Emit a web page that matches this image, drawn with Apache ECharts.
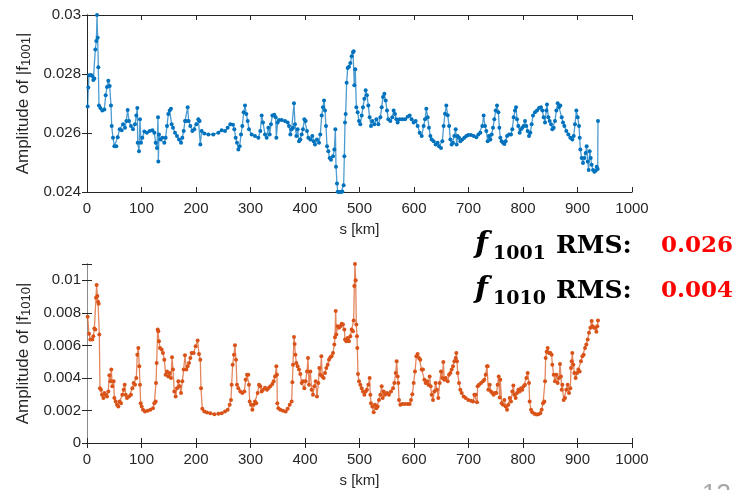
<!DOCTYPE html>
<html>
<head>
<meta charset="utf-8">
<script src="https://cdn.jsdelivr.net/npm/echarts@6/dist/echarts.min.js"></script>
<style>
html, body { margin: 0; padding: 0; background: #fff; }
#chart { width: 749px; height: 490px; }
</style>
</head>
<body>
<div id="chart"></div>
<script>
// |f1001| along the ring (s in km)
var sTop = [1.2,2.4,3.7,7.3,9.8,11.6,13.5,15.3,17.1,18.4,19.6,20.8,22.0,24.5,28.1,31.8,34.3,36.7,39.1,41.6,44.0,45.3,47.7,50.2,53.8,56.3,60.0,63.6,66.1,69.7,72.2,74.6,77.1,80.7,84.4,88.1,90.5,92.3,93.0,95.4,97.2,99.1,101.5,105.2,110.0,115.0,119.9,123.5,126.0,128.4,130.3,130.9,132.1,134.6,138.2,141.9,144.3,146.8,149.2,151.7,154.1,155.3,157.8,161.5,165.1,168.8,172.5,174.9,177.4,179.8,182.3,184.7,186.5,189.6,193.3,196.9,200.6,204.3,206.7,207.9,210.4,215.3,222.6,231.8,241.0,247.1,253.2,258.1,263.0,267.9,270.3,272.8,275.2,277.7,280.1,282.6,285.0,287.5,289.9,292.3,294.8,297.2,302.1,308.2,314.4,318.0,320.5,322.9,326.6,329.7,332.7,335.2,337.6,340.1,343.7,346.2,347.4,349.8,352.3,357.2,363.3,368.2,370.6,373.1,375.5,378.0,379.8,381.6,384.1,386.5,389.0,391.4,393.9,396.3,398.8,401.2,403.7,406.1,409.8,413.4,415.9,418.3,422.0,425.7,428.1,430.6,433.0,434.9,436.7,438.5,440.4,442.8,445.3,447.7,451.4,453.8,455.7,456.9,458.7,460.0,462.4,466.0,468.5,470.9,472.2,473.4,474.6,476.4,478.3,480.7,483.2,485.6,488.1,489.3,490.5,492.3,494.2,496.6,499.1,501.5,504.0,506.4,508.9,511.3,513.7,516.2,518.6,521.1,523.5,527.2,530.9,534.6,538.2,540.7,543.1,545.6,548.0,550.5,552.9,556.6,560.2,562.7,565.1,567.6,570.0,573.7,578.6,583.5,588.4,592.1,595.7,599.4,603.1,606.7,610.4,614.1,617.7,620.2,622.6,625.1,627.5,630.0,632.4,636.1,639.7,643.4,645.9,649.5,652.0,654.4,656.9,659.3,661.8,664.5,666.7,669.1,671.6,674.0,676.5,678.3,680.1,682.6,685.0,688.7,692.4,696.0,699.7,704.6,709.5,714.4,718.1,721.7,725.4,727.8,730.3,732.7,735.2,737.6,740.1,742.5,745.0,747.4,749.9,752.3,754.8,756.6,758.4,760.9,763.3,765.8,768.2,770.7,774.3,778.0,780.4,782.9,785.3,787.2,789.0,791.4,793.9,796.3,798.8,801.2,803.7,806.1,808.6,811.0,813.5,815.9,818.4,822.0,825.7,829.4,833.0,835.5,837.9,840.4,842.8,844.0,846.5,848.9,851.4,853.8,856.3,858.7,861.2,863.6,866.1,868.5,871.0,873.4,875.9,879.5,883.2,886.9,890.5,893.0,895.4,897.9,900.3,902.8,904.0,905.2,907.7,910.1,912.6,915.0,916.8,918.7,920.5,922.3,924.2,926.0,928.5,930.9,933.3,935.2,937.0,937.6];
var ampF1001 = [0.02690,0.02754,0.02796,0.02797,0.02793,0.02780,0.02785,0.02883,0.02912,0.03000,0.02923,0.02823,0.02693,0.02685,0.02676,0.02680,0.02728,0.02756,0.02777,0.02759,0.02693,0.02624,0.02584,0.02555,0.02555,0.02586,0.02613,0.02609,0.02630,0.02618,0.02641,0.02678,0.02641,0.02624,0.02613,0.02630,0.02659,0.02685,0.02567,0.02538,0.02647,0.02567,0.02584,0.02605,0.02601,0.02607,0.02609,0.02601,0.02567,0.02549,0.02653,0.02503,0.02595,0.02578,0.02584,0.02567,0.02584,0.02624,0.02664,0.02676,0.02682,0.02630,0.02618,0.02601,0.02590,0.02578,0.02567,0.02584,0.02607,0.02641,0.02641,0.02687,0.02641,0.02624,0.02607,0.02613,0.02630,0.02647,0.02641,0.02561,0.02607,0.02598,0.02595,0.02595,0.02601,0.02609,0.02607,0.02618,0.02630,0.02628,0.02613,0.02584,0.02567,0.02544,0.02555,0.02595,0.02624,0.02670,0.02693,0.02664,0.02641,0.02613,0.02595,0.02590,0.02584,0.02607,0.02659,0.02636,0.02595,0.02584,0.02618,0.02595,0.02630,0.02659,0.02662,0.02653,0.02584,0.02636,0.02644,0.02644,0.02641,0.02636,0.02624,0.02595,0.02613,0.02618,0.02701,0.02630,0.02590,0.02613,0.02572,0.02578,0.02595,0.02613,0.02647,0.02641,0.02607,0.02584,0.02578,0.02590,0.02572,0.02561,0.02578,0.02567,0.02595,0.02659,0.02687,0.02710,0.02676,0.02624,0.02555,0.02538,0.02515,0.02509,0.02521,0.02544,0.02613,0.02486,0.02429,0.02401,0.02400,0.02400,0.02402,0.02423,0.02521,0.02636,0.02664,0.02770,0.02820,0.02825,0.02837,0.02860,0.02874,0.02877,0.02762,0.02816,0.02687,0.02670,0.02641,0.02630,0.02659,0.02687,0.02716,0.02745,0.02728,0.02693,0.02653,0.02624,0.02641,0.02630,0.02647,0.02630,0.02653,0.02687,0.02722,0.02733,0.02710,0.02676,0.02647,0.02641,0.02653,0.02676,0.02664,0.02647,0.02636,0.02647,0.02647,0.02647,0.02655,0.02659,0.02647,0.02636,0.02641,0.02624,0.02601,0.02590,0.02624,0.02647,0.02682,0.02653,0.02618,0.02590,0.02578,0.02572,0.02561,0.02567,0.02555,0.02549,0.02572,0.02624,0.02665,0.02693,0.02660,0.02624,0.02578,0.02561,0.02567,0.02590,0.02613,0.02561,0.02590,0.02584,0.02572,0.02578,0.02584,0.02590,0.02593,0.02593,0.02590,0.02586,0.02595,0.02601,0.02624,0.02659,0.02624,0.02607,0.02572,0.02590,0.02578,0.02595,0.02618,0.02647,0.02676,0.02693,0.02670,0.02618,0.02584,0.02572,0.02567,0.02563,0.02572,0.02590,0.02595,0.02595,0.02613,0.02653,0.02676,0.02687,0.02647,0.02624,0.02601,0.02613,0.02618,0.02624,0.02641,0.02624,0.02607,0.02590,0.02601,0.02630,0.02659,0.02670,0.02676,0.02685,0.02687,0.02676,0.02653,0.02636,0.02676,0.02697,0.02653,0.02641,0.02630,0.02613,0.02618,0.02641,0.02676,0.02701,0.02687,0.02693,0.02653,0.02636,0.02624,0.02607,0.02595,0.02584,0.02578,0.02590,0.02630,0.02676,0.02653,0.02624,0.02584,0.02544,0.02515,0.02498,0.02515,0.02532,0.02555,0.02503,0.02475,0.02538,0.02515,0.02492,0.02475,0.02469,0.02472,0.02486,0.02478,0.02641];

// |f1010| along the ring
var sBottom = [1.2,3.7,6.1,9.8,11.6,13.5,15.3,16.5,17.7,19.0,20.2,21.4,22.6,23.8,25.7,27.5,30.0,31.8,34.3,36.7,39.1,41.0,42.8,44.6,46.5,48.9,50.2,52.6,55.0,57.5,60.0,62.4,64.8,67.3,69.1,71.0,73.4,77.1,80.7,83.2,85.6,88.1,90.5,92.3,94.2,96.0,97.2,98.5,100.3,102.8,106.4,111.3,116.2,121.1,123.5,126.0,126.6,127.8,129.7,130.9,132.1,133.9,137.0,139.4,141.9,144.3,146.8,149.2,151.7,154.1,156.0,157.8,160.2,162.7,165.1,167.6,170.0,172.5,174.9,177.4,179.8,182.3,184.7,187.2,189.6,192.0,195.7,199.4,203.0,205.5,207.9,209.2,211.6,215.3,220.2,226.3,233.6,241.0,247.1,253.2,258.1,261.8,264.2,265.4,267.3,269.7,271.5,273.4,275.2,277.7,281.3,285.0,288.7,291.1,293.6,296.0,297.2,298.5,300.9,303.4,305.8,308.2,310.7,313.1,315.6,318.0,320.5,322.9,326.6,330.3,332.7,336.4,340.1,342.5,345.0,347.4,348.6,349.2,351.1,354.7,359.6,364.5,368.2,371.9,375.5,376.8,378.0,379.8,381.0,382.3,384.1,386.5,389.0,391.4,393.9,396.3,398.8,401.2,403.7,405.5,407.3,409.8,412.2,414.7,417.1,419.6,422.0,424.5,426.3,428.1,430.0,431.8,434.2,436.7,439.1,441.6,444.0,446.5,448.9,451.4,453.8,455.0,456.3,457.5,459.9,462.4,464.8,467.3,469.7,472.2,473.4,475.8,478.3,480.7,483.2,485.6,488.1,489.3,490.5,491.7,493.0,494.2,495.4,496.0,497.2,499.1,501.5,504.0,506.4,508.9,511.3,513.7,516.2,518.6,519.9,521.1,523.5,526.0,528.4,530.9,533.3,535.8,538.2,540.7,542.5,544.3,546.8,550.5,554.1,557.8,561.5,563.9,566.4,568.2,570.0,571.2,572.5,574.9,578.6,583.5,588.4,592.1,594.5,596.9,599.4,601.8,604.3,606.7,609.2,611.6,614.1,616.5,619.0,621.4,623.8,626.3,628.7,630.6,632.4,634.9,637.3,639.7,642.2,644.6,647.1,649.5,652.0,653.8,655.6,658.1,661.8,664.2,666.7,669.1,671.6,674.0,676.5,677.7,678.9,680.1,682.6,685.0,687.5,691.1,694.8,699.7,704.6,708.3,710.7,713.2,715.6,716.8,719.3,723.0,726.6,729.1,731.5,733.9,735.2,736.4,738.9,741.3,743.7,746.2,748.6,751.1,753.5,755.4,757.2,758.4,760.9,763.3,765.8,768.2,770.7,773.1,775.6,778.0,780.4,782.3,784.1,786.6,789.0,791.4,793.9,796.3,798.8,801.2,803.7,806.1,808.6,811.0,812.2,814.7,817.1,820.8,824.5,828.1,831.8,834.3,836.7,839.2,840.4,841.6,843.4,845.3,847.7,850.2,852.6,853.8,856.3,858.7,861.2,863.6,866.1,867.9,869.7,871.0,872.2,874.6,877.1,879.5,882.0,884.4,886.9,888.1,889.3,890.5,892.4,894.2,896.6,899.1,901.5,904.0,906.4,908.9,911.3,913.8,916.2,918.7,921.1,923.6,926.0,927.8,930.3,932.7,934.6,936.4,937.6];
var ampF1010 = [0.00776,0.00671,0.00636,0.00636,0.00656,0.00704,0.00698,0.00893,0.00971,0.00903,0.00868,0.00856,0.00667,0.00337,0.00327,0.00296,0.00276,0.00307,0.00296,0.00286,0.00317,0.00416,0.00379,0.00451,0.00348,0.00379,0.00276,0.00255,0.00235,0.00224,0.00255,0.00245,0.00296,0.00327,0.00358,0.00296,0.00276,0.00286,0.00296,0.00337,0.00368,0.00358,0.00399,0.00543,0.00584,0.00471,0.00358,0.00245,0.00224,0.00204,0.00193,0.00198,0.00204,0.00214,0.00245,0.00255,0.00368,0.00492,0.00698,0.00687,0.00626,0.00584,0.00574,0.00553,0.00512,0.00420,0.00440,0.00409,0.00430,0.00399,0.00527,0.00451,0.00317,0.00286,0.00337,0.00379,0.00348,0.00307,0.00379,0.00451,0.00539,0.00451,0.00471,0.00492,0.00523,0.00553,0.00553,0.00595,0.00630,0.00547,0.00512,0.00337,0.00210,0.00193,0.00187,0.00183,0.00177,0.00179,0.00183,0.00193,0.00204,0.00235,0.00265,0.00358,0.00481,0.00543,0.00601,0.00512,0.00358,0.00337,0.00317,0.00307,0.00317,0.00389,0.00420,0.00420,0.00358,0.00255,0.00235,0.00204,0.00235,0.00255,0.00245,0.00307,0.00358,0.00348,0.00317,0.00327,0.00340,0.00327,0.00337,0.00348,0.00362,0.00379,0.00409,0.00471,0.00420,0.00245,0.00214,0.00204,0.00198,0.00193,0.00210,0.00235,0.00255,0.00374,0.00481,0.00652,0.00609,0.00543,0.00492,0.00471,0.00451,0.00424,0.00368,0.00379,0.00337,0.00379,0.00440,0.00523,0.00358,0.00440,0.00327,0.00296,0.00348,0.00379,0.00286,0.00368,0.00461,0.00420,0.00533,0.00409,0.00399,0.00430,0.00461,0.00481,0.00512,0.00527,0.00533,0.00553,0.00605,0.00650,0.00811,0.00667,0.00718,0.00708,0.00718,0.00733,0.00728,0.00698,0.00636,0.00626,0.00646,0.00626,0.00656,0.00698,0.00687,0.00753,0.00965,0.01100,0.01000,0.00728,0.00656,0.00584,0.00424,0.00379,0.00358,0.00337,0.00317,0.00296,0.00317,0.00327,0.00358,0.00399,0.00296,0.00245,0.00224,0.00189,0.00235,0.00214,0.00224,0.00265,0.00296,0.00348,0.00276,0.00317,0.00296,0.00307,0.00296,0.00317,0.00337,0.00368,0.00430,0.00502,0.00409,0.00368,0.00265,0.00235,0.00239,0.00239,0.00239,0.00239,0.00265,0.00300,0.00368,0.00440,0.00533,0.00547,0.00523,0.00512,0.00451,0.00451,0.00389,0.00368,0.00379,0.00358,0.00409,0.00348,0.00296,0.00265,0.00317,0.00368,0.00327,0.00276,0.00368,0.00440,0.00399,0.00498,0.00389,0.00400,0.00379,0.00420,0.00430,0.00451,0.00471,0.00502,0.00523,0.00553,0.00502,0.00430,0.00368,0.00327,0.00307,0.00286,0.00276,0.00265,0.00259,0.00255,0.00296,0.00296,0.00251,0.00348,0.00358,0.00368,0.00379,0.00389,0.00420,0.00471,0.00471,0.00327,0.00358,0.00317,0.00307,0.00296,0.00307,0.00307,0.00358,0.00409,0.00280,0.00389,0.00245,0.00235,0.00265,0.00224,0.00204,0.00235,0.00276,0.00255,0.00317,0.00354,0.00296,0.00276,0.00307,0.00327,0.00317,0.00337,0.00327,0.00348,0.00358,0.00399,0.00430,0.00368,0.00255,0.00204,0.00189,0.00179,0.00175,0.00177,0.00183,0.00204,0.00245,0.00255,0.00379,0.00523,0.00560,0.00584,0.00553,0.00553,0.00543,0.00481,0.00420,0.00379,0.00420,0.00368,0.00399,0.00486,0.00409,0.00327,0.00358,0.00265,0.00276,0.00327,0.00358,0.00307,0.00337,0.00461,0.00502,0.00553,0.00481,0.00430,0.00399,0.00430,0.00451,0.00440,0.00502,0.00533,0.00543,0.00584,0.00605,0.00636,0.00677,0.00708,0.00749,0.00718,0.00708,0.00708,0.00683,0.00718,0.00753];

var rmsF1001 = '0.026';
var rmsF1010 = '0.004';

function toPairs(xs, ys) {
    var out = [];
    for (var i = 0; i < xs.length; i++) {
        out.push([xs[i], ys[i]]);
    }
    return out;
}

var axisColor = '#262626';
var sansFont = '"Liberation Sans", Arial, sans-serif';
var serifFont = '"DejaVu Serif", serif';

// no thousands separator, no float noise
function plainNumber(v) {
    return String(+v.toFixed(4));
}

// only label the 0.002 steps (hides the extra max tick of the lower plot)
function yLabel(v) {
    var k = Math.round(v / 0.002);
    return Math.abs(v - k * 0.002) < 1e-7 ? plainNumber(v) : '';
}

function boxXAxes(gridIndex) {
    return [{
        gridIndex: gridIndex,
        type: 'value',
        position: 'bottom',
        min: 0, max: 1000, interval: 100,
        name: 's [km]',
        nameLocation: 'middle',
        nameGap: 30,
        nameTextStyle: { color: axisColor, fontSize: 15, fontFamily: sansFont },
        axisLine: { show: true, lineStyle: { color: axisColor, width: 1 } },
        axisTick: { show: true, inside: true, length: 5, lineStyle: { color: axisColor } },
        axisLabel: { color: axisColor, fontSize: 15, fontFamily: sansFont, margin: 9, formatter: plainNumber },
        splitLine: { show: false }
    }, {
        gridIndex: gridIndex,
        type: 'value',
        position: 'top',
        min: 0, max: 1000, interval: 100,
        axisLine: { show: true, lineStyle: { color: axisColor, width: 1 } },
        axisTick: { show: true, inside: true, length: 5, lineStyle: { color: axisColor } },
        axisLabel: { show: false },
        splitLine: { show: false }
    }];
}

function boxYAxes(gridIndex, min, max, sub, rightColor) {
    return [{
        gridIndex: gridIndex,
        type: 'value',
        position: 'left',
        min: min, max: max, interval: 0.002,
        name: '{a|Amplitude of |f}{s|' + sub + '}{a||}',
        nameLocation: 'middle',
        nameRotate: 90,
        nameGap: 49,
        nameTextStyle: {
            color: axisColor, fontFamily: sansFont,
            rich: {
                a: { fontSize: 17, fontFamily: sansFont, color: axisColor, verticalAlign: 'top', lineHeight: 18 },
                s: { fontSize: 13, fontFamily: sansFont, color: axisColor, verticalAlign: 'bottom', lineHeight: 13, padding: [8, 0, 0, 0] }
            }
        },
        axisLine: { show: true, lineStyle: { color: axisColor, width: 1 } },
        axisTick: { show: true, inside: true, length: 5, lineStyle: { color: axisColor } },
        axisLabel: { color: axisColor, fontSize: 15, fontFamily: sansFont, margin: 6, formatter: yLabel },
        splitLine: { show: false }
    }, {
        gridIndex: gridIndex,
        type: 'value',
        position: 'right',
        min: min, max: max, interval: 0.002,
        axisLine: { show: true, lineStyle: { color: rightColor, width: 1 } },
        axisTick: { show: true, inside: true, length: 5, lineStyle: { color: axisColor } },
        axisLabel: { show: false },
        splitLine: { show: false }
    }];
}

function rmsLine(label, sub, value, y) {
    return [
        { type: 'text', left: 475, top: y - 14, z: 100,
          style: { text: 'f', font: 'italic bold 30px ' + serifFont, fill: '#000' } },
        { type: 'text', left: 493, top: y + 1, z: 100,
          style: { text: sub, font: 'bold 19px ' + serifFont, fill: '#000' } },
        { type: 'text', left: 556, top: y - 10, z: 100,
          style: { text: label, font: 'bold 25px ' + serifFont, fill: '#000' } },
        { type: 'text', left: 661, top: y - 9, z: 100,
          style: { text: value, font: 'bold 23px ' + serifFont, fill: '#ff0000' } }
    ];
}

var chart = echarts.init(document.getElementById('chart'));

var option = {
    animation: false,
    backgroundColor: '#fff',
    grid: [
        { left: 87, top: 15, width: 545, height: 177 },
        { left: 87, top: 264, width: 545, height: 179 }
    ],
    xAxis: boxXAxes(0).concat(boxXAxes(1)),
    yAxis: boxYAxes(0, 0.024, 0.03, '1001', axisColor).concat(boxYAxes(1, 0, 0.011, '1010', '#8c8c8c')),
    series: [{
        type: 'line',
        xAxisIndex: 0, yAxisIndex: 0,
        data: toPairs(sTop, ampF1001),
        symbol: 'circle', symbolSize: 4,
        itemStyle: { color: '#0072BD' },
        lineStyle: { color: '#0072BD', width: 1.3, opacity: 0.7 },
        clip: true
    }, {
        type: 'line',
        xAxisIndex: 2, yAxisIndex: 2,
        data: toPairs(sBottom, ampF1010),
        symbol: 'circle', symbolSize: 4,
        itemStyle: { color: '#D95319' },
        lineStyle: { color: '#D95319', width: 1.3, opacity: 0.7 },
        clip: true
    }],
    graphic: rmsLine('RMS:', '1001', rmsF1001, 244)
        .concat(rmsLine('RMS:', '1010', rmsF1010, 289))
        .concat([{ type: 'text', left: 702, top: 482, z: 100,
                   style: { text: '13', font: '26px ' + sansFont, fill: '#a6a6a6' } }])
};

chart.setOption(option);

window.onresize = function () {
    chart.resize();
};
</script>
</body>
</html>
